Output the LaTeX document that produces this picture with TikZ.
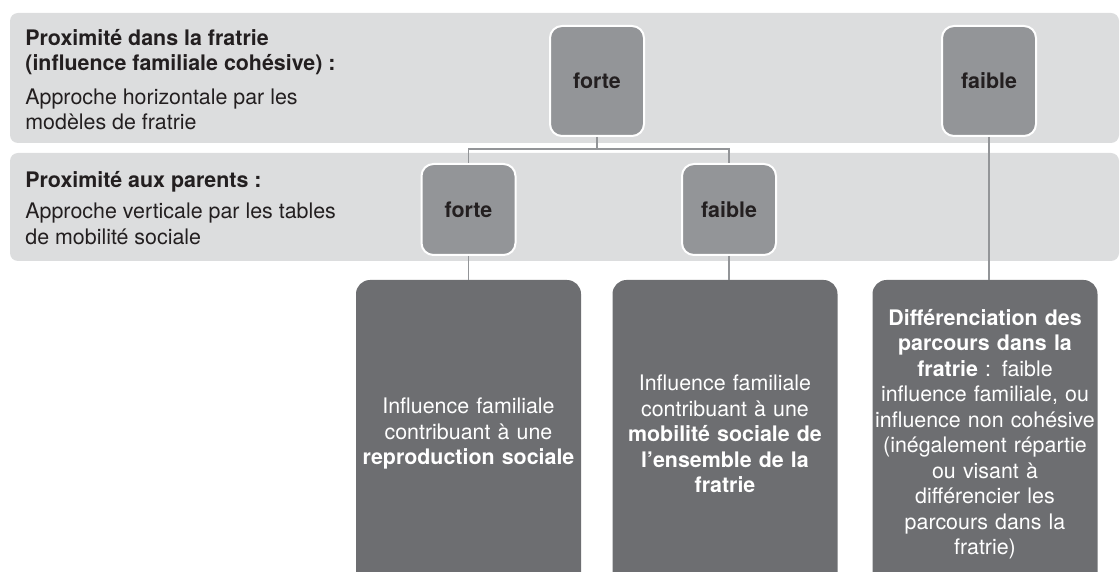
\documentclass[tikz,border=0pt]{standalone}
\usepackage{fontspec}
\setmainfont{TeX Gyre Heros}
\usetikzlibrary{positioning}
\definecolor{bandgrey}{HTML}{DCDDDE}
\definecolor{boxgrey}{HTML}{939598}
\definecolor{darkgrey}{HTML}{6D6E71}
\definecolor{inkgrey}{HTML}{231F20}
\newcommand{\figfont}{\fontsize{10.7pt}{12.75pt}\selectfont}

\begin{document}
\begin{tikzpicture}
	[x=0.5pt, y=-0.5pt, on grid, font=\figfont,
	 band/.style={fill=bandgrey, rounded corners=4pt},
	 choice/.style={draw=white, line width=1pt, fill=boxgrey, rounded corners=6pt,
	   minimum width=47pt, inner sep=0pt, text=inkgrey, font=\figfont\bfseries},
	 outcome/.style={fill=darkgrey, rounded corners=7pt, text=white, inner sep=0pt,
	   minimum width=112.5pt, minimum height=154pt, text width=110pt, align=center},
	 label/.style={anchor=north west, inner sep=0pt, align=left, text=inkgrey},
	 link/.style={draw=boxgrey, line width=0.75pt}]
   \clip (0,0) rectangle (1120,572);
   % bands
   \fill[band] (10,13) rectangle (1119,143);
   \fill[band] (10,153) rectangle (1119,261);
   \node[label] (t_1) at (25,29) {\textbf{Proximité dans la fratrie}\\
     \textbf{(influence familiale cohésive) :}\\[4pt]
     Approche horizontale par les\\ modèles de fratrie};
   \node[label] (t_2) at (25,171) {\textbf{Proximité aux parents :}\\[3pt]
     Approche verticale par les tables\\ de mobilité sociale};

   \node[choice, minimum height=55pt] (f_1) at (597,81) {forte};
   \node[choice, minimum height=55pt] (f_2) [right=196pt of f_1] {faible};
   \node[choice, minimum height=45.5pt] (p_1) [below left=64.25pt and 64.25pt of f_1] {forte};
   \node[choice, minimum height=45.5pt] (p_2) [right=130.25pt of p_1] {faible};

   \node[outcome] (r_1) [below=112.25pt of p_1] {Influence familiale\\ contribuant à une\\
     \textbf{reproduction sociale}};
   \node[outcome] (r_2) [right=128.25pt of r_1] {Influence familiale\\ contribuant à une\\
     \textbf{mobilité sociale de}\\ \textbf{l’ensemble de la}\\ \textbf{fratrie}};
   \node[outcome] (r_3) [right=130pt of r_2] {\textbf{Différenciation des}\\
     \textbf{parcours dans la}\\ \textbf{fratrie} : faible\\ influence familiale, ou\\
     influence non cohésive\\ (inégalement répartie\\ ou visant à\\ différencier les\\
     parcours dans la\\ fratrie)};

    \draw[link] (f_1.south) -- ++(0,12) coordinate (j) -| (p_1.north) (j) -| (p_2.north);
    \draw[link] (p_1) -- (r_1);
    \draw[link] (p_2.south) -- (p_2.south |- r_2.north);
    \draw[link] (f_2.south) -- (f_2.south |- r_3.north);
\end{tikzpicture}
\end{document}
